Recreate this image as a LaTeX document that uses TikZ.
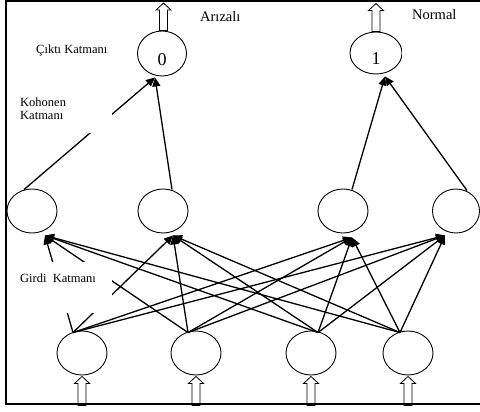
\documentclass[tikz,border=0pt]{standalone}
\usepackage{fontspec}
\setmainfont{Liberation Serif}
\usetikzlibrary{shapes.geometric,arrows.meta,calc}
\newcommand\hollowup[2]{\draw[hollowarrow] (#1) -- ++(-7.5,7) -- ++(3.5,0) -- ++(0,{#2-7}) -- ++(8,0) -- ++(0,{7-#2}) -- ++(3.5,0) -- cycle;}
\begin{document}
\begin{tikzpicture}[x=1pt,y=-1pt,
  neuron/.style={draw, ellipse, line width=0.9pt, minimum width=50pt, minimum height=44pt, inner sep=0pt},
  conn/.style={line width=1.3pt, -{Triangle[length=9pt,width=8pt]}},
  hollowarrow/.style={draw, fill=white, line width=0.8pt},
  lbl/.style={font=\fontsize{12.5}{13.5}\selectfont, inner sep=0pt},
  toplbl/.style={font=\fontsize{14.5}{16}\selectfont, inner sep=0pt},
  digit/.style={font=\fontsize{18}{20}\selectfont},
  cover/.style={fill=white, inner xsep=5pt, inner ysep=0pt, anchor=north west},
]
\clip (0,0) rectangle (480,412);
\useasboundingbox (0,0) rectangle (480,412);

% output layer
\node[neuron, minimum width=49pt, minimum height=45pt, digit, text height=23.2pt, text depth=0pt] (o0) at (162,53.5) {0\hspace{12pt}};
\node[neuron, minimum width=52pt, minimum height=42pt, digit, text height=22.2pt, text depth=0pt] (o1) at (376,53) {1\hspace{6pt}};
% kohonen layer
\node[neuron] (h1) at (32,211) {};
\node[neuron] (h2) at (163,211) {};
\node[neuron] (h3) at (343,211) {};
\node[neuron, minimum width=47pt] (h4) at (456,211) {};
% input layer
\node[neuron] (i1) at (82,353) {};
\node[neuron] (i2) at (196,353) {};
\node[neuron] (i3) at (311,353) {};
\node[neuron] (i4) at (408,353) {};

% connection points
\coordinate (in1) at ([shift={(-9pt,-2pt)}]i1.north);
\coordinate (in2) at ([shift={(-8pt,-2pt)}]i2.north);
\coordinate (in3) at ([shift={(7pt,-2pt)}]i3.north);
\coordinate (in4) at ([shift={(-8pt,-2pt)}]i4.north);
\coordinate (hb1) at ([shift={(13pt,-2pt)}]h1.south);
\coordinate (hb2) at ([shift={(10pt,-2pt)}]h2.south);
\coordinate (hb3) at ([shift={(9pt,-4pt)}]h3.south);
\coordinate (hb4) at ([shift={(-11pt,-2pt)}]h4.south);
\coordinate (ht1) at ([shift={(-8pt,-1pt)}]h1.north);
\coordinate (ht2) at ([shift={(9pt,-1pt)}]h2.north);
\coordinate (ht3) at ([shift={(9pt,-1pt)}]h3.north);
\coordinate (ht4) at ([shift={(11pt,-2pt)}]h4.north);
\coordinate (ob0) at ([shift={(-7pt,-1pt)}]o0.south);
\coordinate (ob1) at ([shift={(9pt,-2pt)}]o1.south);

% input -> kohonen
\foreach \i in {1,...,4}{
  \foreach \h in {1,...,4}{
    \draw[conn] (in\i) -- (hb\h);
  }
}
% kohonen -> output
\draw[conn] (ht1) -- (ob0);
\draw[conn] (ht2) -- (ob0);
\draw[conn] (ht3) -- (ob1);
\draw[conn] (ht4) -- (ob1);

% hollow arrows
\coordinate (ot0) at ([shift={(1.5pt,27.5pt)}]o0.north);
\coordinate (ot1) at ([shift={(0pt,28pt)}]o1.north);
\hollowup{ot0}{27.5}
\hollowup{ot1}{28}
\coordinate (it1) at ([yshift=-1pt]i1.south);
\coordinate (it2) at ([yshift=-1pt]i2.south);
\coordinate (it3) at ([yshift=-1pt]i3.south);
\coordinate (it4) at ([yshift=-1pt]i4.south);
\hollowup{it1}{29}
\hollowup{it2}{29}
\hollowup{it3}{29}
\hollowup{it4}{29}

% labels
\node[lbl, anchor=base west] (cikti) at (36,53.5) {Çıktı Katmanı};
\node[toplbl, anchor=base west] (arizali) at (200,21.5) {Arızalı};
\node[lbl, cover] (kohonen) at (15,84) {\parbox[c][49pt][c]{87pt}{Kohonen\\Katmanı}};
\node[lbl, cover] (girdi) at (15,262) {\parbox[c][51pt][t]{87pt}{\vspace*{12pt}Girdi~~Katmanı}};
\node[toplbl, cover, inner xsep=10.5pt] (normal) at (401.5,3) {\parbox[c][52pt][t]{50pt}{\vspace*{6.7pt}Normal}};

% frame
\draw[line width=2pt] (6,1) rectangle (484,404);
\end{tikzpicture}
\end{document}
